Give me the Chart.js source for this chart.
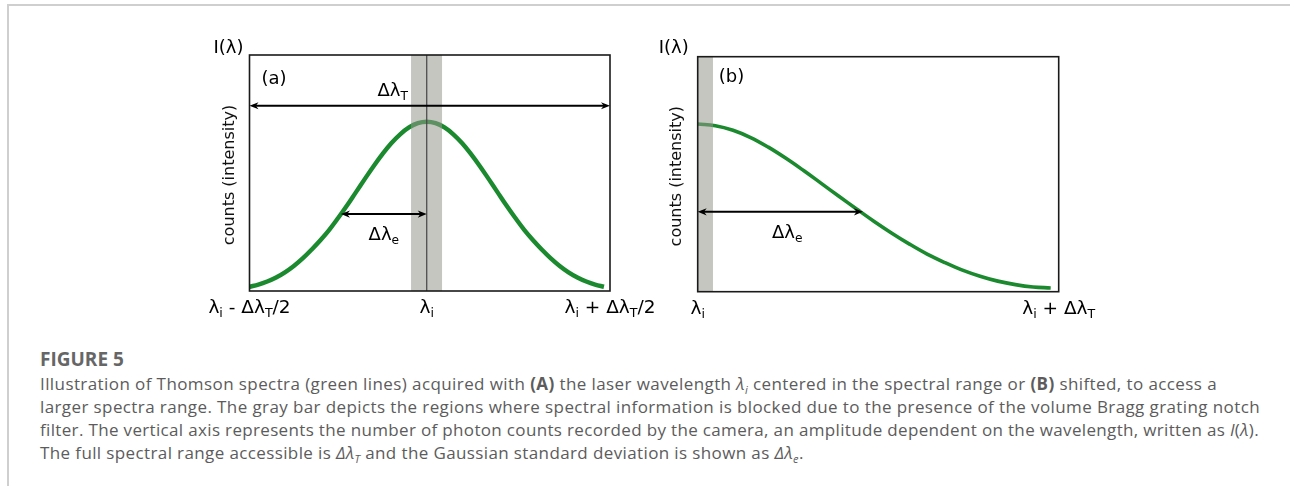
<!DOCTYPE html>
<html><head><meta charset="utf-8">
<script src="https://cdn.jsdelivr.net/npm/chart.js@4.4.1/dist/chart.umd.min.js"></script>
<style>
html,body{margin:0;padding:0;background:#fff;}
body{width:1290px;height:486px;position:relative;overflow:hidden;}
#frame{position:absolute;left:7px;top:4px;width:1290px;height:490px;border-top:2px solid #cfcfcf;border-left:2px solid #cfcfcf;}
canvas{position:absolute;top:0;}
#ca{left:0;}
#cb{left:640px;}
.cap{position:absolute;left:40px;white-space:nowrap;font-family:"Open Sans",sans-serif;color:#5c5c5c;}
.fig{font-weight:700;font-size:19px;line-height:20px;color:#666;top:349px;}
.ln{font-size:17px;line-height:23px;}
sub{font-size:11px;line-height:0;}
</style>
</head><body>
<div id="frame"></div>
<canvas id="ca" width="660" height="330"></canvas>
<canvas id="cb" width="650" height="330"></canvas>
<div class="cap fig">FIGURE 5</div>
<div class="cap ln" id="l1" style="top:372px">Illustration of Thomson spectra (green lines) acquired with <b>(A)</b> the laser wavelength <i>λ<sub>i</sub></i> centered in the spectral range or <b>(B)</b> shifted, to access a</div>
<div class="cap ln" id="l2" style="top:395px">larger spectra range. The gray bar depicts the regions where spectral information is blocked due to the presence of the volume Bragg grating notch</div>
<div class="cap ln" id="l3" style="top:418px">filter. The vertical axis represents the number of photon counts recorded by the camera, an amplitude dependent on the wavelength, written as <i>I</i>(<i>λ</i>).</div>
<div class="cap ln" id="l4" style="top:441px">The full spectral range accessible is <i>Δλ<sub>T</sub></i> and the Gaussian standard deviation is shown as <i>Δλ<sub>e</sub></i>.</div>
<script>
// ---- data (wavelength in units of ΔλT/2 for (a), ΔλT for (b); intensity in % of axis height)
const wavelengthA = [-1,-0.95,-0.9,-0.85,-0.8,-0.75,-0.7,-0.65,-0.6,-0.55,-0.5,-0.45,-0.4,-0.35,-0.3,-0.25,-0.2,-0.15,-0.1,-0.05,0,
                     0.05,0.1,0.15,0.2,0.25,0.3,0.35,0.4,0.45,0.5,0.55,0.6,0.65,0.7,0.75,0.8,0.85,0.9,0.95,1];
const intensityA  = [1.8,2.7,4.0,5.7,7.9,10.6,13.8,17.5,21.5,25.9,30.9,36.2,41.8,47.4,52.9,58.0,62.6,66.4,69.3,71.1,71.7,
                     71.1,69.3,66.4,62.6,58.0,52.9,47.4,41.8,36.2,30.9,25.9,21.5,17.5,13.8,10.6,7.9,5.7,4.0,2.7,1.8];
const wavelengthB = [0,0.05,0.1,0.15,0.2,0.25,0.3,0.35,0.4,0.45,0.5,0.55,0.6,0.65,0.7,0.75,0.8,0.85,0.9,0.95,1];
const intensityB  = [71.35,70.65,68.7,65.6,61.5,56.75,51.55,46.1,40.6,35.2,29.9,24.9,20.25,16.0,12.4,9.2,6.6,4.5,3.0,2.0,1.6];
const rangeA = [-1, 1.034];
const rangeB = [0, 1.0227];
const notchA = [-0.0886, 0.0863];
const notchB = [0, 0.0433];
const spanTA = {from:-1, to:1.034, level:78.5};
const sigmaA = {from:-0.484, to:0, level:32.6};
const sigmaB = {from:0, to:0.468, level:34.0};
const ticksA = [
  {v:-1, parts:[["λ"],["i",1],[" - Δλ"],["T",1],["/2"]]},
  {v:0, parts:[["λ"],["i",1]]},
  {v:1.034, parts:[["λ"],["i",1],[" + Δλ"],["T",1],["/2"]]}
];
const ticksB = [
  {v:0, parts:[["λ"],["i",1]]},
  {v:1.0227, parts:[["λ"],["i",1],[" + Δλ"],["T",1]]}
];
const yTitle = "counts (intensity)";
const yLabel = "I(λ)";

const FONT = '"DejaVu Sans", sans-serif';
const GREEN = '#1b8a2f';

// fit caption line widths to the reference
(function(){
  const targets = {l1:1177, l2:1220, l3:1219};
  let acc = 0, n = 0;
  Object.keys(targets).forEach(id=>{
    const el = document.getElementById(id);
    const w = el.getBoundingClientRect().width;
    const chars = el.textContent.length;
    const ls = (targets[id]-w)/chars;
    el.style.letterSpacing = ls.toFixed(3)+'px';
    acc += ls; n++;
  });
  document.getElementById('l4').style.letterSpacing = (acc/n).toFixed(3)+'px';
})();

function rich(ctx, parts, x, y, size, align){
  const sub = size*0.68;
  let w = 0;
  const widths = parts.map(p=>{ctx.font = (p[1]?sub:size)+'px '+FONT; const m = ctx.measureText(p[0]).width; w+=m; return m;});
  let cx = align==='center' ? x - w/2 : (align==='right' ? x - w : x);
  ctx.textAlign = 'left'; ctx.textBaseline = 'alphabetic';
  parts.forEach((p,i)=>{
    ctx.font = (p[1]?sub:size)+'px '+FONT;
    ctx.fillText(p[0], cx, p[1] ? y + size*0.22 : y);
    cx += widths[i];
  });
}
function arrow(ctx, x1, x2, y){
  ctx.save();
  ctx.strokeStyle = '#000'; ctx.fillStyle = '#000'; ctx.lineWidth = 2;
  const L = 9, H = 3.6;
  ctx.beginPath(); ctx.moveTo(x1+4, y); ctx.lineTo(x2-4, y); ctx.stroke();
  [[x1,1],[x2,-1]].forEach(([x,d])=>{
    ctx.beginPath(); ctx.moveTo(x, y); ctx.lineTo(x+d*L, y-H); ctx.lineTo(x+d*L*0.7, y); ctx.lineTo(x+d*L, y+H); ctx.closePath(); ctx.fill();
  });
  ctx.restore();
}

function makePlugin(cfg){
  return {
    id:'deco'+cfg.name,
    afterDatasetsDraw(chart){
      const ctx = chart.ctx, a = chart.chartArea, xs = chart.scales.x, ys = chart.scales.y;
      ctx.save();
      ctx.fillStyle = 'rgba(150,152,140,0.55)';
      const b1 = xs.getPixelForValue(cfg.notch[0]), b2 = xs.getPixelForValue(cfg.notch[1]);
      ctx.fillRect(b1, a.top, b2-b1, a.bottom-a.top);
      if (cfg.centerLine){
        const cx = xs.getPixelForValue(0);
        ctx.strokeStyle = '#444'; ctx.lineWidth = 1.2;
        ctx.beginPath(); ctx.moveTo(cx, a.top); ctx.lineTo(cx, a.bottom); ctx.stroke();
      }
      ctx.strokeStyle = '#1a1a1a'; ctx.lineWidth = 1.6;
      ctx.strokeRect(a.left, a.top, a.right-a.left, a.bottom-a.top);
      ctx.fillStyle = '#000';
      cfg.arrows.forEach(ar=>{
        const x1 = xs.getPixelForValue(ar.from), x2 = xs.getPixelForValue(ar.to), y = ys.getPixelForValue(ar.level);
        arrow(ctx, x1, x2, y);
        if (ar.label){
          const lx = (x1+x2)/2 + (ar.dx||0);
          rich(ctx, ar.label, lx, y + ar.dy, 18, 'center');
        }
      });
      ctx.fillStyle = '#000';
      cfg.ticks.forEach(t=>{
        rich(ctx, t.parts, xs.getPixelForValue(t.v), a.bottom + 22, 18.5, 'center');
      });
      ctx.font = '18px '+FONT; ctx.textAlign = 'right'; ctx.textBaseline='alphabetic';
      ctx.fillText(yLabel, a.left + cfg.iLab[0], a.top + cfg.iLab[1]);
      ctx.textAlign = 'left';
      ctx.fillText(cfg.letter, a.left + cfg.letPos[0], a.top + cfg.letPos[1]);
      ctx.save();
      ctx.translate(a.left + cfg.yT, (a.top+a.bottom)/2 + 2);
      ctx.rotate(-Math.PI/2);
      ctx.font = '16px '+FONT; ctx.textAlign='center'; ctx.textBaseline='middle'; ctx.fillStyle='#111';
      ctx.fillText(yTitle, 0, 0);
      ctx.restore();
      ctx.restore();
    }
  };
}

function build(id, xs, ys, range, width, pad, cfg){
  return new Chart(document.getElementById(id), {
    type:'line',
    data:{datasets:[{data: xs.map((x,i)=>({x, y: ys[i]})), borderColor: GREEN, borderWidth: width,
      pointRadius:0, fill:false, tension:0.4, borderCapStyle:'butt'}]},
    options:{
      responsive:false, animation:false, devicePixelRatio:1,
      layout:{padding:pad},
      plugins:{legend:{display:false}, tooltip:{enabled:false}},
      scales:{
        x:{type:'linear', min:range[0], max:range[1], display:false},
        y:{type:'linear', min:0, max:100, display:false}
      }
    },
    plugins:[makePlugin(cfg)]
  });
}

build('ca', wavelengthA, intensityA, rangeA, 4.4, {left:249.5, right:50, top:55, bottom:39}, {
  name:'A', notch:notchA, centerLine:true,
  arrows:[
    {...spanTA, label:[["Δλ"],["T",1]], dx:-37, dy:-10},
    {...sigmaA, label:[["Δλ"],["e",1]], dy:26}
  ],
  ticks:ticksA, iLab:[-6, -2], letter:'(a)', letPos:[12, 29], yT:-19.5
});
build('cb', wavelengthB, intensityB, rangeB, 3.6, {left:57.7, right:231.3, top:56.7, bottom:38.3}, {
  name:'B', notch:notchB, centerLine:false,
  arrows:[
    {...sigmaB, label:[["Δλ"],["e",1]], dx:7, dy:26}
  ],
  ticks:ticksB, iLab:[-9, -4], letter:'(b)', letPos:[21, 25], yT:-20.7
});
</script>
</body></html>
